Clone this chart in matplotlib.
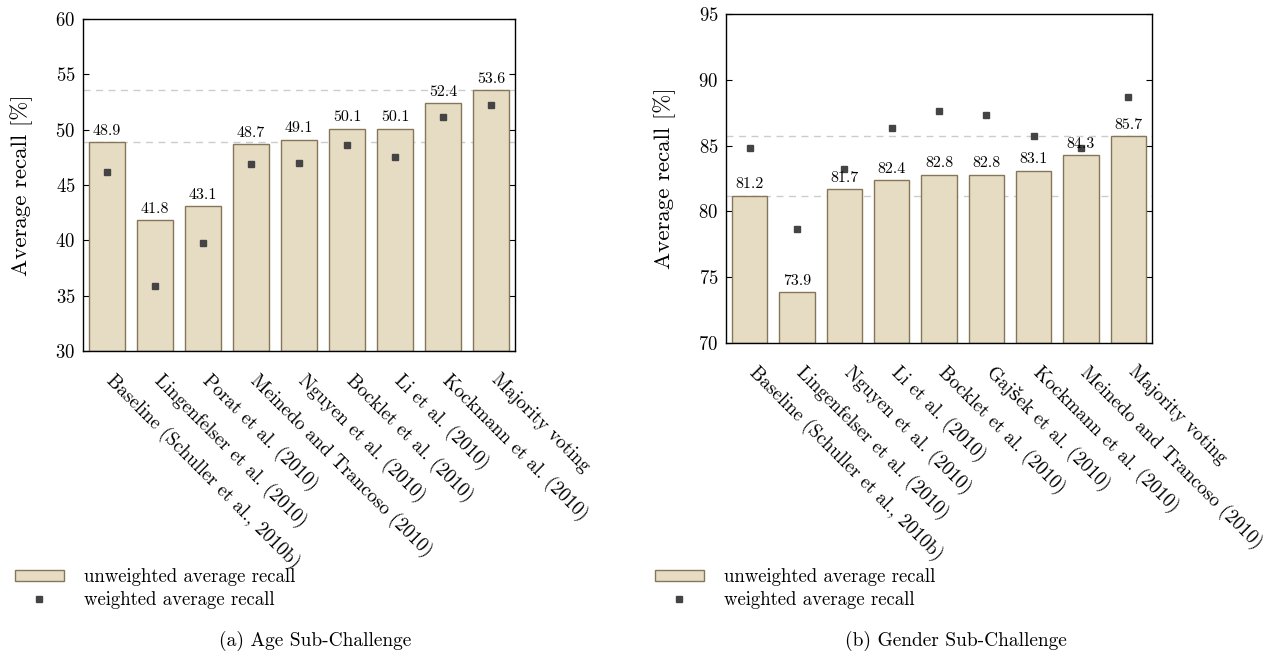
import numpy as np
import matplotlib
matplotlib.use('Agg')
import matplotlib.pyplot as plt
import matplotlib.transforms as mtransforms
from matplotlib.patches import Patch
from matplotlib.lines import Line2D

# Age sub-challenge
age_labels = ['Baseline (Schuller et al., 2010b)', 'Lingenfelser et al. (2010)',
              'Porat et al. (2010)', 'Meinedo and Trancoso (2010)', 'Nguyen et al. (2010)',
              'Bocklet et al. (2010)', 'Li et al. (2010)', 'Kockmann et al. (2010)',
              'Majority voting']
age_uar = [48.9, 41.8, 43.1, 48.7, 49.1, 50.1, 50.1, 52.4, 53.6]
age_war = [46.2, 35.9, 39.8, 46.9, 47.0, 48.6, 47.5, 51.1, 52.2]

# Gender sub-challenge
gender_labels = ['Baseline (Schuller et al., 2010b)', 'Lingenfelser et al. (2010)',
                 'Nguyen et al. (2010)', 'Li et al. (2010)', 'Bocklet et al. (2010)',
                 'Gajšek et al. (2010)', 'Kockmann et al. (2010)',
                 'Meinedo and Trancoso (2010)', 'Majority voting']
gender_uar = [81.2, 73.9, 81.7, 82.4, 82.8, 82.8, 83.1, 84.3, 85.7]
gender_war = [84.8, 78.7, 83.2, 86.3, 87.6, 87.3, 85.7, 84.8, 88.7]

plt.rcParams['font.family'] = ['cmr10', 'DejaVu Serif']
plt.rcParams['axes.formatter.use_mathtext'] = True
plt.rcParams['mathtext.fontset'] = 'cm'

bar_face = '#e6dcc4'
bar_edge = '#857658'
mark_col = '#444444'

W, H = 1278, 659
fig = plt.figure(figsize=(W / 100, H / 100), dpi=100)
# axes boxes in pixels (left, top, right, bottom)
ax1 = fig.add_axes([83 / W, 1 - 351 / H, (515 - 83) / W, (351 - 19) / H])
ax2 = fig.add_axes([726 / W, 1 - 343 / H, (1152 - 726) / W, (343 - 14) / H])


def draw(ax, labels, uar, war, ylim, yticks, lab_size):
    x = np.arange(len(labels))
    ax.axhline(uar[0], color='#cccccc', ls=(0, (5, 4)), lw=1, zorder=1)
    ax.axhline(max(uar), color='#cccccc', ls=(0, (5, 4)), lw=1, zorder=1)
    ax.bar(x, np.array(uar) - ylim[0], bottom=ylim[0], width=0.75,
           color=bar_face, edgecolor=bar_edge, linewidth=1.0, zorder=2)
    ax.plot(x, war, ls='none', marker='s', ms=5, color=mark_col, zorder=3)
    for xi, v in zip(x, uar):
        ax.annotate(f'{v:.1f}', (xi, v), xytext=(0, 3), textcoords='offset points',
                    ha='center', va='bottom', fontsize=11.5, zorder=4)
    ax.set_xlim(-0.5, len(labels) - 0.5)
    ax.set_ylim(*ylim)
    ax.set_yticks(yticks)
    ax.set_xticks(x)
    ax.set_xticklabels([])
    ax.tick_params(axis='both', direction='in', top=False, right=True,
                   length=4, width=0.8, labelsize=13.5)
    ax.tick_params(axis='y', pad=5.5)
    # rotated category labels, placed below the axis
    shift = mtransforms.ScaledTranslation(7 / 72, -14 / 72, fig.dpi_scale_trans)
    for xi, lab in zip(x, labels):
        ax.text(xi, 0, lab, transform=ax.get_xaxis_transform() + shift,
                rotation=-45, ha='left', va='top', rotation_mode='anchor',
                fontsize=lab_size)
    ax.set_ylabel('Average recall [%]', fontsize=16.5)
    for s in ax.spines.values():
        s.set_linewidth(1.0)


draw(ax1, age_labels, age_uar, age_war, (30, 60), [30, 35, 40, 45, 50, 55, 60], 13.7)
draw(ax2, gender_labels, gender_uar, gender_war, (70, 95), [70, 75, 80, 85, 90, 95], 13.7)
ax1.yaxis.set_label_coords(-50 / 432, 0.5)
ax2.yaxis.set_label_coords(-50 / 426, 0.5)

handles = [Patch(facecolor=bar_face, edgecolor=bar_edge, linewidth=1.0),
           Line2D([], [], ls='none', marker='s', ms=4.5, color=mark_col)]
names = ['unweighted average recall', 'weighted average recall']
for x0 in (15 / W, 655 / W):
    fig.legend(handles, names, loc='upper left', bbox_to_anchor=(x0, 1 - 568 / H),
               bbox_transform=fig.transFigure, frameon=False, fontsize=13.5,
               handlelength=2.6, handleheight=0.5, handletextpad=1.1,
               labelspacing=0.25, borderaxespad=0, borderpad=0)

fig.text(315 / W, 1 - 641 / H, '(a) Age Sub-Challenge', ha='center', va='center', fontsize=14)
fig.text(956 / W, 1 - 641 / H, '(b) Gender Sub-Challenge', ha='center', va='center', fontsize=14)

fig.savefig('out.png', dpi=100)
